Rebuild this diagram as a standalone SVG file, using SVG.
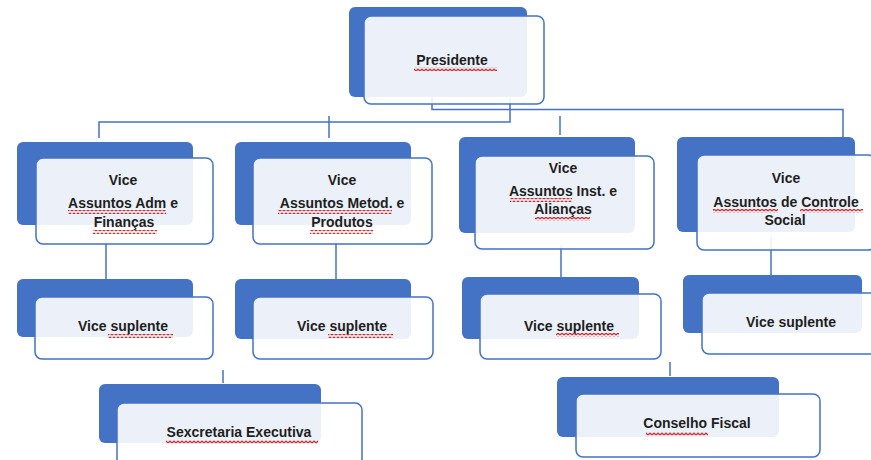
<svg xmlns="http://www.w3.org/2000/svg" width="871" height="460" viewBox="0 0 871 460">
<style>
.back{fill:#4472C4}
.front{fill:#ffffff;fill-opacity:0.9;stroke:#4472C4;stroke-width:1.5}
.t{font-family:"Liberation Sans",Arial,sans-serif;font-weight:bold;font-size:14px;fill:#1e1e1e;text-anchor:middle}
.sq{fill:url(#squig)}
.conn{fill:none;stroke:#4472C4;stroke-width:1.5}
</style>
<defs>
<pattern id="squig" patternUnits="userSpaceOnUse" width="4" height="4">
<path d="M0,3 L2,1 L4,3" fill="none" stroke="#e02020" stroke-width="1.2"/>
</pattern>
</defs>
<rect width="871" height="460" fill="#ffffff"/>
<g id="connectors">
<path class="conn" d="M432,90 V109.5 H843 V140"/>
<path class="conn" d="M510,98 V122 H99 V138"/>
<path class="conn" d="M329,116 V138"/>
<path class="conn" d="M560,116 V135"/>
<path class="conn" d="M106,240 V279"/>
<path class="conn" d="M336,240 V279"/>
<path class="conn" d="M561,245 V277"/>
<path class="conn" d="M771,237 V275"/>
<path class="conn" d="M223,370 V383"/>
<path class="conn" d="M670,362 V376"/>
</g>
<g id="presidente">
<rect class="back" x="349" y="7" width="178" height="90" rx="6"/>
<rect class="front" x="364" y="16" width="180" height="88" rx="7"/>
<text class="t" x="452" y="65">Presidente</text>
<rect class="sq" x="414" y="67" width="83" height="4"/>
</g>
<g id="vice-adm">
<rect class="back" x="17" y="142" width="176" height="83" rx="6"/>
<rect class="front" x="36" y="158" width="177" height="86" rx="7"/>
<text class="t" x="123" y="185">Vice</text>
<text class="t" x="123" y="208">Assuntos Adm e</text>
<text class="t" x="124" y="227">Finanças</text>
<rect class="sq" x="68" y="210" width="98" height="4"/>
<rect class="sq" x="93" y="230" width="64" height="4"/>
</g>
<g id="vice-metod">
<rect class="back" x="235" y="142" width="176" height="83" rx="6"/>
<rect class="front" x="253" y="158" width="179" height="86" rx="7"/>
<text class="t" x="342" y="185">Vice</text>
<text class="t" x="342" y="208">Assuntos Metod. e</text>
<text class="t" x="342" y="227">Produtos</text>
<rect class="sq" x="278" y="210" width="114" height="4"/>
<rect class="sq" x="310" y="230" width="63" height="4"/>
</g>
<g id="vice-inst">
<rect class="back" x="459" y="137" width="176" height="96" rx="6"/>
<rect class="front" x="475" y="156" width="179" height="93" rx="7"/>
<text class="t" x="563" y="173">Vice</text>
<text class="t" x="563" y="196">Assuntos Inst. e</text>
<text class="t" x="563" y="214">Alianças</text>
<rect class="sq" x="510" y="198" width="62" height="4"/>
<rect class="sq" x="535" y="217" width="55" height="4"/>
</g>
<g id="vice-controle">
<rect class="back" x="677" y="137" width="178" height="95" rx="6"/>
<rect class="front" x="697" y="155" width="178" height="95" rx="7"/>
<text class="t" x="786" y="183">Vice</text>
<text class="t" x="786" y="207">Assuntos de Controle</text>
<text class="t" x="785" y="225">Social</text>
<rect class="sq" x="713" y="209" width="65" height="4"/>
<rect class="sq" x="800" y="209" width="63" height="4"/>
</g>
<g id="suplente-adm">
<rect class="back" x="17" y="279" width="176" height="58" rx="6"/>
<rect class="front" x="35" y="297" width="178" height="62" rx="7"/>
<text class="t" x="123" y="331">Vice suplente</text>
<rect class="sq" x="108" y="334" width="65" height="4"/>
</g>
<g id="suplente-metod">
<rect class="back" x="235" y="279" width="176" height="60" rx="6"/>
<rect class="front" x="253" y="297" width="180" height="62" rx="7"/>
<text class="t" x="342" y="331">Vice suplente</text>
<rect class="sq" x="328" y="334" width="65" height="4"/>
</g>
<g id="suplente-inst">
<rect class="back" x="462" y="277" width="177" height="62" rx="6"/>
<rect class="front" x="480" y="294" width="181" height="65" rx="7"/>
<text class="t" x="569" y="331">Vice suplente</text>
<rect class="sq" x="556" y="333" width="63" height="4"/>
</g>
<g id="suplente-controle">
<rect class="back" x="683" y="275" width="179" height="58" rx="6"/>
<rect class="front" x="702" y="293" width="180" height="61" rx="7"/>
<text class="t" x="791" y="327">Vice suplente</text>
</g>
<g id="secretaria">
<rect class="back" x="99" y="384" width="222" height="59" rx="6"/>
<rect class="front" x="117" y="403" width="245" height="63" rx="7"/>
<text class="t" x="239" y="437">Sexcretaria Executiva</text>
<rect class="sq" x="166" y="440" width="152" height="4"/>
</g>
<g id="conselho">
<rect class="back" x="557" y="377" width="222" height="60" rx="6"/>
<rect class="front" x="576" y="394" width="244" height="63" rx="7"/>
<text class="t" x="697" y="428">Conselho Fiscal</text>
<rect class="sq" x="646" y="432" width="62" height="4"/>
</g>
</svg>
